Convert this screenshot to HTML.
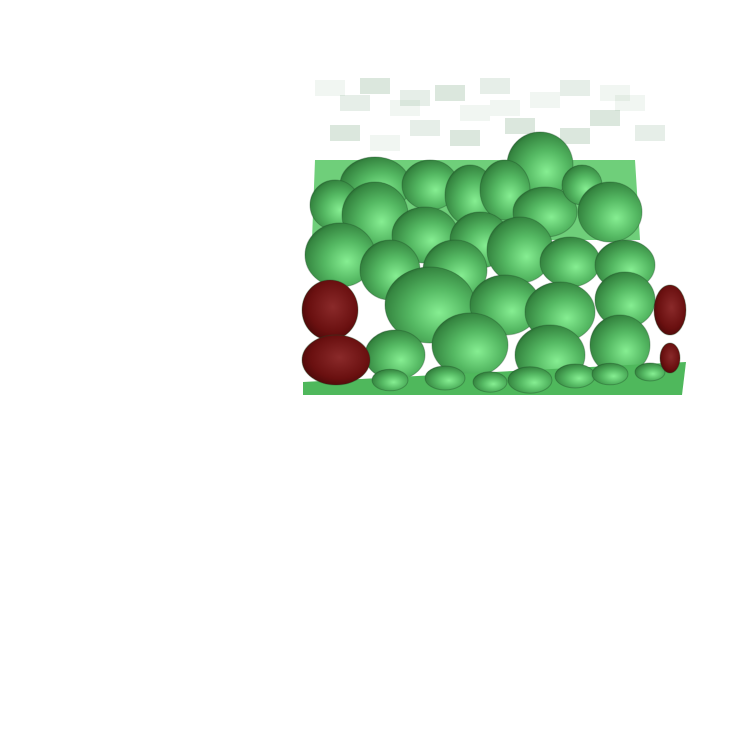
<!DOCTYPE html>
<html><head><meta charset="utf-8"><style>
html,body{margin:0;padding:0;background:#fff;width:750px;height:750px;overflow:hidden}
svg{display:block}
</style></head><body>
<svg id="scene" width="750" height="750" viewBox="0 0 750 750" xmlns="http://www.w3.org/2000/svg">
<defs>
<radialGradient id="gg" cx="0.6" cy="0.6" r="0.7">
<stop offset="0" stop-color="#86ee92"/><stop offset="0.45" stop-color="#55b963"/><stop offset="0.85" stop-color="#358540"/><stop offset="1" stop-color="#1c5224"/>
</radialGradient>
<radialGradient id="rg" cx="0.55" cy="0.45" r="0.7">
<stop offset="0" stop-color="#8a2a2a"/><stop offset="0.6" stop-color="#6a1010"/><stop offset="1" stop-color="#3a0505"/>
</radialGradient>
</defs>
<g id="ghost"></g>
<polygon points="315,160 635,160 640,240 312,240" fill="#6fcf7a"/>
<g id="blobs"></g>
<polygon points="303,382 686,362 682,395 303,395" fill="#4fb85c"/>
<g id="front"></g>
<g id="red"></g>
</svg>
<script>
const greenX=[540,375,430,470,505,545,582,610,335,375,425,480,520,570,625,340,390,455,430,505,560,625,395,470,550,620];
const greenY=[165,185,185,195,190,212,185,212,205,215,235,240,250,262,265,255,270,270,305,305,312,300,355,345,355,345];
const greenRX=[33,35,28,25,25,32,20,32,25,33,33,30,33,30,30,35,30,32,45,35,35,30,30,38,35,30];
const greenRY=[33,28,25,30,30,25,20,30,25,33,28,28,33,25,25,32,30,30,38,30,30,28,25,32,30,30];
const frontX=[390,445,490,530,575,610,650];
const frontY=[380,378,382,380,376,374,372];
const frontR=[18,20,17,22,20,18,15];
const redX=[330,336,670,670];
const redY=[310,360,310,358];
const redRX=[28,34,16,10];
const redRY=[30,25,25,15];
const ghostX=[315,340,360,390,410,435,460,480,505,530,560,590,615,635,330,370,400,450,490,520,560,600];
const ghostY=[80,95,78,100,120,85,105,78,118,92,80,110,95,125,125,135,90,130,100,140,128,85];
const NS='http://www.w3.org/2000/svg';
const gh=document.getElementById('ghost');
for(let i=0;i<ghostX.length;i++){const r=document.createElementNS(NS,'rect');
r.setAttribute('x',ghostX[i]);r.setAttribute('y',ghostY[i]);r.setAttribute('width',30);r.setAttribute('height',16);
r.setAttribute('fill','#3f7d4a');r.setAttribute('opacity',0.07+0.06*(i%3));


gh.appendChild(r);}
function blob(parent,x,y,rx,ry,fill,name){const e=document.createElementNS(NS,'ellipse');
e.setAttribute('cx',x);e.setAttribute('cy',y);e.setAttribute('rx',rx);e.setAttribute('ry',ry);
e.setAttribute('fill',fill);e.setAttribute('stroke','#1e4a24');e.setAttribute('stroke-opacity','0.35');


parent.appendChild(e);}
const g=document.getElementById('blobs');
for(let i=0;i<greenX.length;i++)blob(g,greenX[i],greenY[i],greenRX[i],greenRY[i],'url(#gg)','green-cell');
const f=document.getElementById('front');
for(let i=0;i<frontX.length;i++)blob(f,frontX[i],frontY[i],frontR[i],frontR[i]*0.6,'url(#gg)','front-cell');
const rd=document.getElementById('red');
for(let i=0;i<redX.length;i++)blob(rd,redX[i],redY[i],redRX[i],redRY[i],'url(#rg)','red-cell');
</script>
</body></html>
